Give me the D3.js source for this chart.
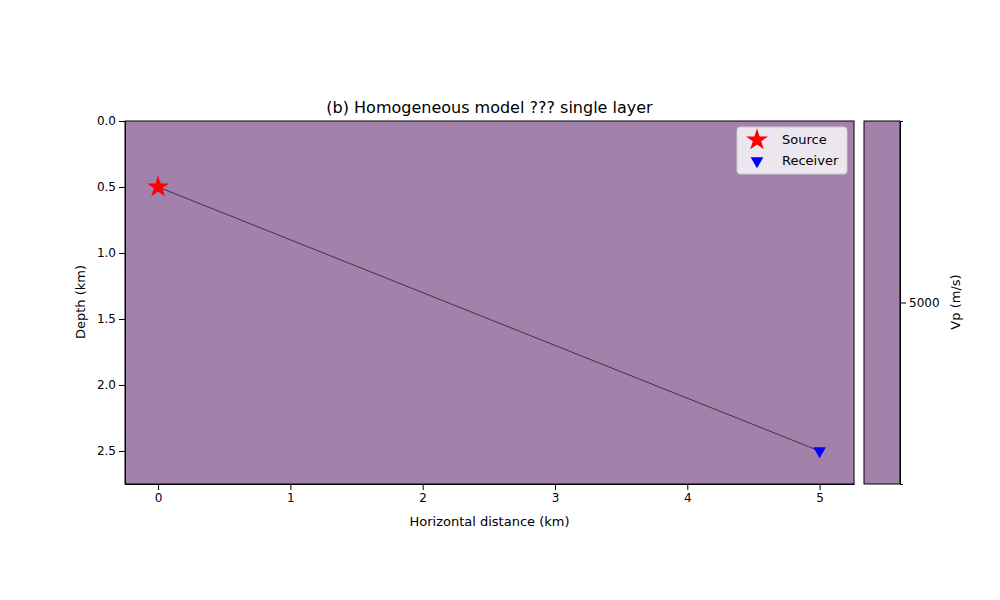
<!DOCTYPE html>
<html><head><meta charset="utf-8">
<script src="https://cdn.jsdelivr.net/npm/d3@7"></script>
<style>body{margin:0;background:#fff}text{font-family:"DejaVu Sans",sans-serif;fill:#000}</style>
</head><body><svg width="1000" height="600"></svg>
<script>
const title = "(b) Homogeneous model ??? single layer";
const xTicks = [0, 1, 2, 3, 4, 5];
const yTicks = [0.0, 0.5, 1.0, 1.5, 2.0, 2.5];
const source = [0, 0.5];
const receiver = [5, 2.5];
const vp = 5000;
const modelColor = "#a281aa";

const svg = d3.select("svg");
const x = d3.scaleLinear().domain([-0.25, 5.26]).range([125, 854]);
const y = d3.scaleLinear().domain([0, 2.75]).range([121, 484]);

svg.append("rect").attr("x", 125).attr("y", 121).attr("width", 729).attr("height", 363)
    .attr("fill", modelColor);

svg.append("line")
    .attr("x1", x(source[0])).attr("y1", y(source[1]))
    .attr("x2", x(receiver[0])).attr("y2", y(receiver[1]))
    .attr("stroke", "#000").attr("stroke-opacity", 0.6).attr("stroke-width", 1);

const star = d3.symbol().type(d3.symbolStar).size(150);
const tri = d3.symbol().type(d3.symbolTriangle).size(70);
svg.append("path").attr("d", star()).attr("fill", "red")
    .attr("transform", `translate(${x(source[0])},${y(source[1])})`);
svg.append("path").attr("d", tri()).attr("fill", "blue")
    .attr("transform", `translate(${x(receiver[0])},${y(receiver[1])}) rotate(180)`);

svg.append("g").attr("transform", "translate(0,484)")
    .call(d3.axisBottom(x).tickValues(xTicks).tickFormat(d3.format("d")).tickSizeOuter(0))
    .call(g => g.selectAll("text").style("font-size", "12px"));
svg.append("g").attr("transform", "translate(125,0)")
    .call(d3.axisLeft(y).tickValues(yTicks).tickFormat(d3.format(".1f")).tickSizeOuter(0))
    .call(g => g.selectAll("text").style("font-size", "12px"));
svg.append("rect").attr("x", 125).attr("y", 121).attr("width", 729).attr("height", 363)
    .attr("fill", "none").attr("stroke", "#000");

svg.append("text").attr("x", 489.5).attr("y", 113).attr("text-anchor", "middle")
    .style("font-size", "16px").text(title);
svg.append("text").attr("x", 489.5).attr("y", 526).attr("text-anchor", "middle")
    .style("font-size", "13px").text("Horizontal distance (km)");
svg.append("text").attr("transform", "translate(85,302) rotate(-90)").attr("text-anchor", "middle")
    .style("font-size", "13px").text("Depth (km)");

// legend
const lg = svg.append("g").attr("transform", "translate(737,127)");
lg.append("rect").attr("width", 110).attr("height", 47).attr("rx", 3)
    .attr("fill", "#fff").attr("fill-opacity", 0.8).attr("stroke", "#ccc");
lg.append("path").attr("d", star()).attr("fill", "red").attr("transform", "translate(20,13)");
lg.append("text").attr("x", 45).attr("y", 17).style("font-size", "13px").text("Source");
lg.append("path").attr("d", tri()).attr("fill", "blue").attr("transform", "translate(20,34) rotate(180)");
lg.append("text").attr("x", 45).attr("y", 38).style("font-size", "13px").text("Receiver");

// colorbar
const c = d3.scaleLinear().domain([vp - 1, vp + 1]).range([484, 121]);
svg.append("rect").attr("x", 864).attr("y", 121).attr("width", 36).attr("height", 363)
    .attr("fill", modelColor).attr("stroke", "#000");
svg.append("g").attr("transform", "translate(900,0)")
    .call(d3.axisRight(c).tickValues([vp]).tickFormat(d3.format("d")).tickSizeOuter(3))
    .call(g => g.select(".domain").attr("stroke", "#000"))
    .call(g => g.selectAll("text").style("font-size", "12px"));
svg.append("text").attr("transform", "translate(960,302) rotate(-90)").attr("text-anchor", "middle")
    .style("font-size", "13px").text("Vp (m/s)");
</script></body></html>
